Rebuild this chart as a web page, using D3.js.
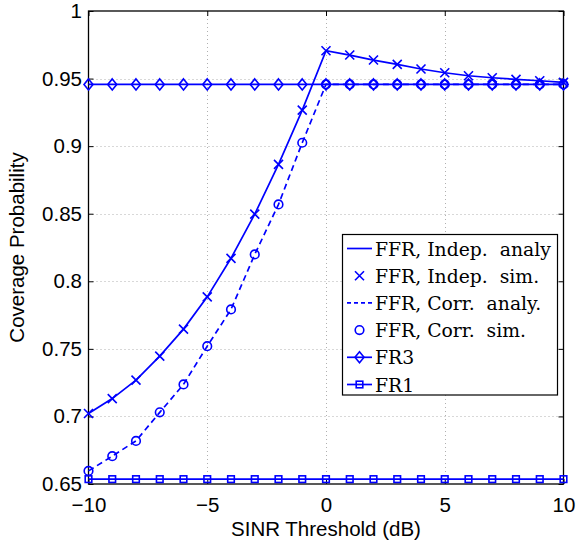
<!DOCTYPE html>
<html>
<head>
<meta charset="utf-8">
<script src="https://cdn.jsdelivr.net/npm/d3@7"></script>
<style>
  html, body { margin: 0; padding: 0; background: #fff; }
  svg { display: block; }
  text { white-space: pre; }
</style>
</head>
<body>
<svg id="chart" width="576" height="546"></svg>
<script>
// SINR thresholds (dB)
const thresholds = d3.range(-10, 11, 1);

// Coverage probability per threshold
const ffrIndep = [0.7022, 0.7132, 0.7269, 0.7446, 0.7646, 0.7885, 0.8170, 0.8497, 0.8865, 0.9267,
                  0.9706, 0.9674, 0.9637, 0.9605, 0.9571, 0.9543, 0.9521, 0.9506, 0.9494, 0.9484, 0.9472];
const ffrCorr  = [0.6597, 0.6706, 0.6819, 0.7030, 0.7237, 0.7520, 0.7792, 0.8199, 0.8569, 0.9025,
                  0.9457, 0.9457, 0.9457, 0.9457, 0.9457, 0.9457, 0.9457, 0.9457, 0.9457, 0.9457, 0.9457];
const fr3 = thresholds.map(() => 0.9457);
const fr1 = thresholds.map(() => 0.6536);

const xTicks = [-10, -5, 0, 5, 10];
const yTicks = [0.65, 0.7, 0.75, 0.8, 0.85, 0.9, 0.95, 1];

const legendLabels = ["FFR, Indep.  analy", "FFR, Indep.  sim.", "FFR, Corr.  analy.",
                      "FFR, Corr.  sim.", "FR3", "FR1"];

const blue = "#0000ff";
const svg = d3.select("#chart");
const plotL = 88.5, plotR = 563.5, plotT = 11, plotB = 484;

const x = d3.scaleLinear().domain([-10, 10]).range([plotL, plotR]);
const y = d3.scaleLinear().domain([0.65, 1]).range([plotB, plotT]);

// dotted grid
const grid = svg.append("g").attr("stroke", "#b0b0b0").attr("stroke-width", 1)
  .attr("stroke-dasharray", "1,3");
grid.selectAll("line.gx").data(xTicks.slice(1, -1)).join("line")
  .attr("x1", d => Math.round(x(d)) + 0.5).attr("x2", d => Math.round(x(d)) + 0.5)
  .attr("y1", plotT).attr("y2", plotB);
grid.selectAll("line.gy").data(yTicks.slice(1, -1)).join("line")
  .attr("y1", d => Math.round(y(d)) + 0.5).attr("y2", d => Math.round(y(d)) + 0.5)
  .attr("x1", plotL).attr("x2", plotR);

// axes with inward ticks
const fmt = d => d < 0 ? "\u2212" + Math.abs(d) : String(d);
const axisFont = "'Liberation Sans', Arial, sans-serif";
const axisSize = 20.5;
const xAxis = svg.append("g").attr("transform", `translate(0,${plotB})`)
  .call(d3.axisBottom(x).tickValues(xTicks).tickSize(-5).tickPadding(13).tickFormat(fmt));
const xAxisTop = svg.append("g").attr("transform", `translate(0,${plotT})`)
  .call(d3.axisTop(x).tickValues(xTicks).tickSize(-5).tickFormat(""));
const yAxis = svg.append("g").attr("transform", `translate(${plotL},0)`)
  .call(d3.axisLeft(y).tickValues(yTicks).tickSize(-5).tickPadding(6.5).tickFormat(d => String(+d.toFixed(2))));
const yAxisRight = svg.append("g").attr("transform", `translate(${plotR},0)`)
  .call(d3.axisRight(y).tickValues(yTicks).tickSize(-5).tickFormat(""));
[xAxis, xAxisTop, yAxis, yAxisRight].forEach(g => {
  g.select(".domain").remove();
  g.selectAll("line").attr("stroke", "#000");
  g.selectAll("text").attr("font-family", axisFont).attr("font-size", axisSize).attr("fill", "#000");
});

// frame
svg.append("rect").attr("x", plotL).attr("y", plotT).attr("width", plotR - plotL).attr("height", plotB - plotT)
  .attr("fill", "none").attr("stroke", "#000").attr("stroke-width", 1.3);

// axis titles
svg.append("text").attr("x", (plotL + plotR) / 2).attr("y", 536).attr("text-anchor", "middle")
  .attr("font-family", axisFont).attr("font-size", axisSize).text("SINR Threshold (dB)");
svg.append("text").attr("transform", `translate(24,${(plotT + plotB) / 2}) rotate(-90)`)
  .attr("text-anchor", "middle").attr("font-family", axisFont).attr("font-size", axisSize)
  .text("Coverage Probability");

// marker shapes
function drawMarker(g, kind, cx, cy) {
  const common = s => s.attr("fill", "none").attr("stroke", blue).attr("stroke-width", 1.6);
  if (kind === "x") {
    const h = 4.5;
    common(g.append("path").attr("d", `M${cx - h},${cy - h}L${cx + h},${cy + h}M${cx - h},${cy + h}L${cx + h},${cy - h}`));
  } else if (kind === "o") {
    common(g.append("circle").attr("cx", cx).attr("cy", cy).attr("r", 4.3));
  } else if (kind === "d") {
    common(g.append("path").attr("d", `M${cx},${cy - 5.5}L${cx + 4.5},${cy}L${cx},${cy + 5.5}L${cx - 4.5},${cy}Z`));
  } else if (kind === "s") {
    common(g.append("rect").attr("x", cx - 3.3).attr("y", cy - 3.3).attr("width", 6.6).attr("height", 6.6));
  }
}

const series = [
  { vals: ffrIndep, line: true, dash: null, marker: null },
  { vals: ffrIndep, line: false, dash: null, marker: "x" },
  { vals: ffrCorr, line: true, dash: "6,4", marker: null },
  { vals: ffrCorr, line: false, dash: null, marker: "o" },
  { vals: fr3, line: true, dash: null, marker: "d" },
  { vals: fr1, line: true, dash: null, marker: "s" }
];

const lineGen = d3.line().x(d => x(d[0])).y(d => y(d[1]));
const plot = svg.append("g");
series.forEach(s => {
  const pts = thresholds.map((t, i) => [t, s.vals[i]]);
  if (s.line) {
    plot.append("path").attr("d", lineGen(pts)).attr("fill", "none")
      .attr("stroke", blue).attr("stroke-width", 1.7)
      .attr("stroke-dasharray", s.dash);
  }
  if (s.marker) {
    const g = plot.append("g");
    pts.forEach(p => drawMarker(g, s.marker, x(p[0]), y(p[1])));
  }
});

// legend
const lg = svg.append("g");
lg.append("rect").attr("x", 342.5).attr("y", 234.5).attr("width", 215).attr("height", 160.5)
  .attr("fill", "#fff").attr("stroke", "#000").attr("stroke-width", 1.2);
const clip = svg.append("clipPath").attr("id", "legclip");
clip.append("rect").attr("x", 343).attr("y", 235).attr("width", 214).attr("height", 160);
series.forEach((s, i) => {
  const cy = 248.5 + i * 27.2;
  if (s.line) {
    lg.append("line").attr("x1", 347).attr("x2", 372).attr("y1", cy).attr("y2", cy)
      .attr("stroke", blue).attr("stroke-width", 1.7).attr("stroke-dasharray", s.dash ? "4,3" : null);
  }
  if (s.marker) drawMarker(lg, s.marker, 359.5, cy);
  lg.append("text").attr("x", 375).attr("y", cy + 7).attr("clip-path", "url(#legclip)")
    .attr("font-family", "'DejaVu Serif', serif").attr("font-size", 18.8)
    .attr("fill", "#000").text(legendLabels[i]);
});
</script>
</body>
</html>
